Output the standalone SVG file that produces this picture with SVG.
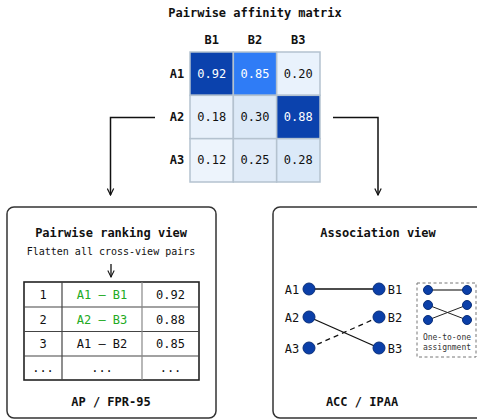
<svg xmlns="http://www.w3.org/2000/svg" width="477" height="419" viewBox="0 0 477 419">
  <defs>
    <style>
      text { font-family: "DejaVu Sans Mono", "Liberation Mono", monospace; fill: #111; }
      .title { font-size: 12px; font-weight: bold; text-anchor: middle; }
      .hdr { font-size: 12px; font-weight: bold; text-anchor: middle; }
      .val { font-size: 12px; text-anchor: middle; }
      .inv { fill: #ffffff; }
      .sub { font-size: 10px; text-anchor: middle; }
      .tiny { font-size: 8px; text-anchor: middle; fill: #333; }
      .ok { fill: #22aa22; }
      .cell { stroke: #b4c2cf; stroke-width: 1.5; }
      .panel { fill: #ffffff; stroke: #333; stroke-width: 1.5; }
      .conn { fill: none; stroke: #111; stroke-width: 1.5; }
      .dot { fill: #0b3fa8; stroke: #0a2f7a; stroke-width: 1; }
      .edge { stroke: #111; stroke-width: 1.3; fill: none; }
    </style>
    <marker id="arrow" viewBox="0 0 10 10" refX="9" refY="5" markerWidth="8" markerHeight="8" orient="auto" markerUnits="userSpaceOnUse">
      <path d="M1,1 L9,5 L1,9" fill="none" stroke="#111" stroke-width="1.5"/>
    </marker>
    <marker id="arrow-small" viewBox="0 0 10 10" refX="9" refY="5" markerWidth="8" markerHeight="8" orient="auto" markerUnits="userSpaceOnUse">
      <path d="M1,1 L9,5 L1,9" fill="none" stroke="#111" stroke-width="1.3"/>
    </marker>
  </defs>
  <rect width="477" height="419" fill="#ffffff"/>

  <!-- affinity matrix -->
  <g id="matrix">
    <text class="title" x="255" y="17">Pairwise affinity matrix</text>
    <text class="hdr" x="211.7" y="44">B1</text>
    <text class="hdr" x="255" y="44">B2</text>
    <text class="hdr" x="298.3" y="44">B3</text>
    <text class="hdr" x="177" y="78">A1</text>
    <text class="hdr" x="177" y="121">A2</text>
    <text class="hdr" x="177" y="164">A3</text>

    <rect class="cell" x="190" y="52" width="43.33" height="43.33" fill="#0b42ad"/>
    <rect class="cell" x="233.33" y="52" width="43.33" height="43.33" fill="#2f7cf6"/>
    <rect class="cell" x="276.67" y="52" width="43.33" height="43.33" fill="#e9f2fc"/>
    <rect class="cell" x="190" y="95.33" width="43.33" height="43.33" fill="#e8f1fb"/>
    <rect class="cell" x="233.33" y="95.33" width="43.33" height="43.33" fill="#dce9f7"/>
    <rect class="cell" x="276.67" y="95.33" width="43.33" height="43.33" fill="#0b42ad"/>
    <rect class="cell" x="190" y="138.67" width="43.33" height="43.33" fill="#edf4fc"/>
    <rect class="cell" x="233.33" y="138.67" width="43.33" height="43.33" fill="#e0ebf8"/>
    <rect class="cell" x="276.67" y="138.67" width="43.33" height="43.33" fill="#dbe9f8"/>

    <text class="val inv" x="211.7" y="78">0.92</text>
    <text class="val inv" x="255" y="78">0.85</text>
    <text class="val" x="298.3" y="78">0.20</text>
    <text class="val" x="211.7" y="121">0.18</text>
    <text class="val" x="255" y="121">0.30</text>
    <text class="val inv" x="298.3" y="121">0.88</text>
    <text class="val" x="211.7" y="164">0.12</text>
    <text class="val" x="255" y="164">0.25</text>
    <text class="val" x="298.3" y="164">0.28</text>
  </g>

  <!-- connectors from the matrix to both views -->
  <g id="connectors">
    <path class="conn" d="M155,117.5 H110.5 V195" marker-end="url(#arrow)"/>
    <path class="conn" d="M333,117.5 H378 V195" marker-end="url(#arrow)"/>
  </g>

  <!-- ranking view -->
  <g id="ranking-view">
    <rect class="panel" x="7" y="207" width="209" height="211" rx="7"/>
    <text class="title" x="111" y="237">Pairwise ranking view</text>
    <text class="sub" x="111" y="255">Flatten all cross-view pairs</text>
    <line x1="111" y1="264" x2="111" y2="277" stroke="#111" stroke-width="1.3" marker-end="url(#arrow-small)"/>
    <g id="ranking-table">
      <rect x="24" y="282" width="175" height="98" fill="none" stroke="#222" stroke-width="1.6"/>
      <line x1="24" y1="307" x2="199" y2="307" stroke="#444" stroke-width="1.2"/>
      <line x1="24" y1="331.5" x2="199" y2="331.5" stroke="#444" stroke-width="1.2"/>
      <line x1="24" y1="356" x2="199" y2="356" stroke="#444" stroke-width="1.2"/>
      <line x1="62" y1="282" x2="62" y2="380" stroke="#444" stroke-width="1.2"/>
      <line x1="142" y1="282" x2="142" y2="380" stroke="#888" stroke-width="1.2"/>
      <text class="val" x="43" y="299">1</text>
      <text class="val ok" x="102" y="299">A1 – B1</text>
      <text class="val" x="170.5" y="299">0.92</text>
      <text class="val" x="43" y="323.5">2</text>
      <text class="val ok" x="102" y="323.5">A2 – B3</text>
      <text class="val" x="170.5" y="323.5">0.88</text>
      <text class="val" x="43" y="348">3</text>
      <text class="val" x="102" y="348">A1 – B2</text>
      <text class="val" x="170.5" y="348">0.85</text>
      <text class="val" x="43" y="372">...</text>
      <text class="val" x="102" y="372">...</text>
      <text class="val" x="170.5" y="372">...</text>
    </g>
    <text class="title" x="111" y="406">AP / FPR-95</text>
  </g>

  <!-- association view -->
  <g id="association-view">
    <rect class="panel" x="273" y="207" width="215" height="211" rx="7"/>
    <text class="title" x="378" y="237">Association view</text>

    <line class="edge" x1="309" y1="289" x2="379" y2="289"/>
    <line class="edge" x1="309" y1="317" x2="379" y2="348"/>
    <line class="edge" x1="309" y1="348" x2="379" y2="317" stroke-dasharray="5,4"/>

    <circle class="dot" cx="309" cy="289" r="6"/>
    <circle class="dot" cx="309" cy="317" r="6"/>
    <circle class="dot" cx="309" cy="348" r="6"/>
    <circle class="dot" cx="379" cy="289" r="6"/>
    <circle class="dot" cx="379" cy="317" r="6"/>
    <circle class="dot" cx="379" cy="348" r="6"/>

    <text class="val" x="292" y="293.5">A1</text>
    <text class="val" x="292" y="321.5">A2</text>
    <text class="val" x="292" y="352.5">A3</text>
    <text class="val" x="395" y="293.5">B1</text>
    <text class="val" x="395" y="321.5">B2</text>
    <text class="val" x="395" y="352.5">B3</text>

    <g id="assignment-legend">
      <rect x="417" y="283" width="59" height="74" fill="none" stroke="#777" stroke-width="1" stroke-dasharray="3,2.5"/>
      <line x1="428" y1="290" x2="467" y2="290" stroke="#555" stroke-width="1.5"/>
      <line x1="428" y1="305" x2="467" y2="320" stroke="#222" stroke-width="1"/>
      <line x1="428" y1="320" x2="467" y2="305" stroke="#222" stroke-width="1"/>
      <circle class="dot" cx="428" cy="290" r="4.5"/>
      <circle class="dot" cx="467" cy="290" r="4.5"/>
      <circle class="dot" cx="428" cy="305" r="4.5"/>
      <circle class="dot" cx="467" cy="305" r="4.5"/>
      <circle class="dot" cx="428" cy="320" r="4.5"/>
      <circle class="dot" cx="467" cy="320" r="4.5"/>
      <text class="tiny" x="447" y="340">One-to-one</text>
      <text class="tiny" x="447" y="350">assignment</text>
    </g>

    <text class="title" x="362" y="406">ACC / IPAA</text>
  </g>
</svg>
